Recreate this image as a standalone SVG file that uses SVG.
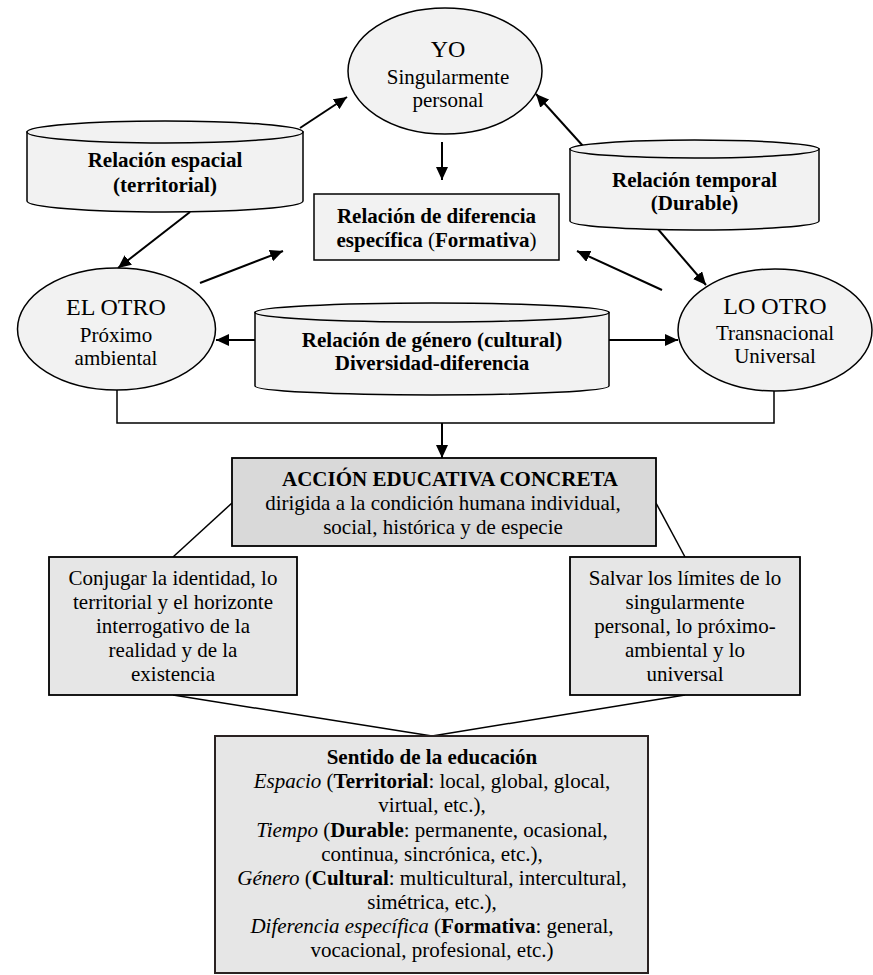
<svg xmlns="http://www.w3.org/2000/svg" width="873" height="975" viewBox="0 0 873 975">
<style>
text{font-family:"Liberation Serif","Times New Roman",serif;font-size:21px;fill:#000;text-anchor:middle}
.b{font-weight:bold}
.i{font-style:italic}
.big{font-size:24px}
.shape{fill:#f2f2f2;stroke:#000;stroke-width:1.5}
.box1{fill:#f2f2f2;stroke:#000;stroke-width:1.5}
.box2{fill:#d9d9d9;stroke:#000;stroke-width:1.8}
.box3{fill:#e6e6e6;stroke:#000;stroke-width:1.8}
.box4{fill:#e6e6e6;stroke:#2a2222;stroke-width:2}
.ln{fill:none;stroke:#000;stroke-width:1.5}
.ar{fill:none;stroke:#000;stroke-width:2;marker-end:url(#ah)}
</style>
<defs>
<marker id="ah" markerUnits="userSpaceOnUse" markerWidth="14" markerHeight="12" refX="13" refY="6" orient="auto">
<path d="M0,0 L13,6 L0,12 Z" fill="#000"/>
</marker>
</defs>
<g id="connectors">
<line class="ar" x1="300" y1="128" x2="347" y2="97"/>
<line class="ar" x1="190" y1="212" x2="118" y2="268"/>
<line class="ar" x1="200" y1="283" x2="283" y2="251"/>
<line class="ar" x1="442" y1="142" x2="442" y2="180"/>
<line class="ar" x1="583" y1="146" x2="536" y2="94"/>
<line class="ar" x1="657" y1="228" x2="706" y2="285"/>
<line class="ar" x1="662" y1="290" x2="577" y2="251"/>
<line class="ar" x1="255" y1="340" x2="216" y2="340"/>
<line class="ar" x1="609" y1="340" x2="678" y2="340"/>
<polyline class="ln" points="117,390 117,423 774,423 774,390"/>
<line class="ar" x1="442" y1="423" x2="442" y2="458"/>
<line class="ln" x1="173" y1="557" x2="232" y2="503"/>
<line class="ln" x1="685" y1="557" x2="656" y2="503"/>
<line class="ln" x1="173" y1="695" x2="432" y2="736"/>
<line class="ln" x1="685" y1="695" x2="432" y2="736"/>
</g>
<g id="yo">
<ellipse class="shape" cx="445" cy="71" rx="97" ry="63"/>
<text class="big" x="448" y="57">YO</text>
<text x="448" y="84">Singularmente</text>
<text x="448" y="107">personal</text>
</g>
<g id="rel-espacial">
<path class="shape" d="M27,132 L27,201 A138,11 0 0 0 303,201 L303,132 Z"/>
<ellipse class="shape" cx="165" cy="132" rx="138" ry="11"/>
<text class="b" x="165" y="167">Relación espacial</text>
<text class="b" x="165" y="192">(territorial)</text>
</g>
<g id="rel-temporal">
<path class="shape" d="M570,149 L570,221 A124.5,9 0 0 0 819,221 L819,149 Z"/>
<ellipse class="shape" cx="694.5" cy="149" rx="124.5" ry="9"/>
<text class="b" x="694.5" y="187">Relación temporal</text>
<text class="b" x="694.5" y="210">(Durable)</text>
</g>
<g id="rel-diferencia">
<rect class="box1" x="314" y="194" width="245" height="66"/>
<text class="b" x="436.5" y="223">Relación de diferencia</text>
<text x="436.5" y="247"><tspan class="b">específica</tspan> (<tspan class="b">Formativa</tspan>)</text>
</g>
<g id="el-otro">
<ellipse class="shape" cx="116.5" cy="329" rx="99" ry="61"/>
<text class="big" x="116" y="315">EL OTRO</text>
<text x="116" y="342">Próximo</text>
<text x="116" y="365">ambiental</text>
</g>
<g id="lo-otro">
<ellipse class="shape" cx="775" cy="330" rx="97" ry="61"/>
<text class="big" x="775" y="314">LO OTRO</text>
<text x="775" y="340">Transnacional</text>
<text x="775" y="363">Universal</text>
</g>
<g id="rel-genero">
<path class="shape" d="M255,312.5 L255,386 A177,9 0 0 0 609,386 L609,312.5 Z"/>
<ellipse class="shape" cx="432" cy="312.5" rx="177" ry="9.5"/>
<text class="b" x="432" y="347">Relación de género (cultural)</text>
<text class="b" x="432" y="370">Diversidad-diferencia</text>
</g>
<g id="accion">
<rect class="box2" x="232" y="458" width="424" height="88"/>
<text class="b" x="450" y="486">ACCIÓN EDUCATIVA CONCRETA</text>
<text x="443" y="510">dirigida a la condición humana individual,</text>
<text x="443" y="534">social, histórica y de especie</text>
</g>
<g id="conjugar">
<rect class="box3" x="49" y="557" width="248" height="138"/>
<text x="173" y="585">Conjugar la identidad, lo</text>
<text x="173" y="609">territorial y el horizonte</text>
<text x="173" y="633">interrogativo de la</text>
<text x="173" y="657">realidad y de la</text>
<text x="173" y="681">existencia</text>
</g>
<g id="salvar">
<rect class="box3" x="570" y="557" width="230" height="138"/>
<text x="685" y="585">Salvar los límites de lo</text>
<text x="685" y="609">singularmente</text>
<text x="685" y="633">personal, lo próximo-</text>
<text x="685" y="657">ambiental y lo</text>
<text x="685" y="681">universal</text>
</g>
<g id="sentido">
<rect class="box4" x="215" y="736" width="433" height="237"/>
<text class="b" x="432" y="764">Sentido de la educación</text>
<text x="432" y="788"><tspan class="i">Espacio</tspan> (<tspan class="b">Territorial</tspan>: local, global, glocal,</text>
<text x="432" y="812">virtual, etc.),</text>
<text x="432" y="837"><tspan class="i">Tiempo</tspan> (<tspan class="b">Durable</tspan>: permanente, ocasional,</text>
<text x="432" y="861">continua, sincrónica, etc.),</text>
<text x="432" y="885"><tspan class="i">Género</tspan> (<tspan class="b">Cultural</tspan>: multicultural, intercultural,</text>
<text x="432" y="909">simétrica, etc.),</text>
<text x="432" y="933"><tspan class="i">Diferencia específica</tspan> (<tspan class="b">Formativa</tspan>: general,</text>
<text x="432" y="957">vocacional, profesional, etc.)</text>
</g>
</svg>
